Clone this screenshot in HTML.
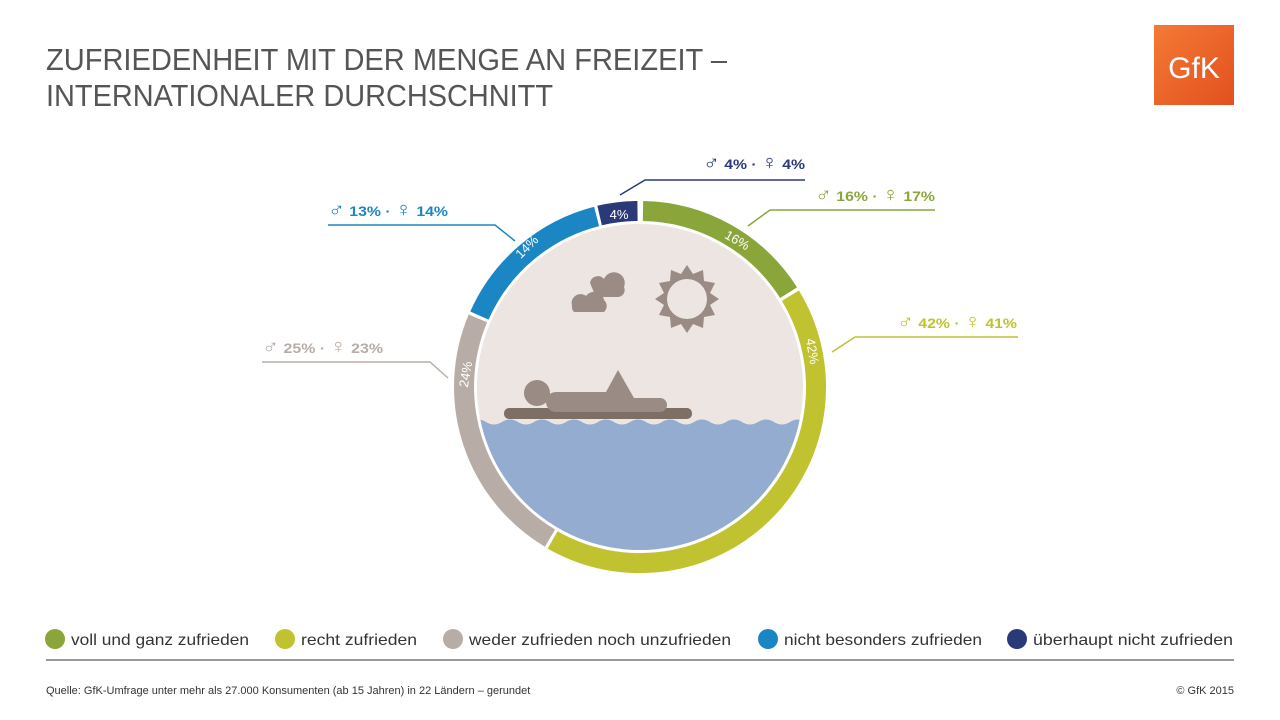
<!DOCTYPE html>
<html><head><meta charset="utf-8"><style>
body{margin:0;background:#fff;}
svg{display:block;font-family:"Liberation Sans","DejaVu Sans",sans-serif;}
</style></head><body>
<svg width="1280" height="720" viewBox="0 0 1280 720">
<defs><linearGradient id="lg" x1="0" y1="0" x2="1" y2="1"><stop offset="0" stop-color="#f47a35"/><stop offset="1" stop-color="#e2501f"/></linearGradient></defs>
<text x="46" y="70" font-size="31" fill="#555" textLength="681" lengthAdjust="spacingAndGlyphs">ZUFRIEDENHEIT MIT DER MENGE AN FREIZEIT –</text>
<text x="46" y="106" font-size="31" fill="#555" textLength="507" lengthAdjust="spacingAndGlyphs">INTERNATIONALER DURCHSCHNITT</text>
<rect x="1154" y="25" width="80" height="80" fill="url(#lg)"/>
<text x="1194" y="78" font-size="30" fill="#fff" text-anchor="middle">GfK</text>
<clipPath id="c"><circle cx="640" cy="387" r="163"/></clipPath>
<circle cx="640" cy="387" r="163" fill="#ece5e1"/>
<g clip-path="url(#c)">
<path d="M470 422 q8 -5 16 0 t16 0 t16 0 t16 0 t16 0 t16 0 t16 0 t16 0 t16 0 t16 0 t16 0 t16 0 t16 0 t16 0 t16 0 t16 0 t16 0 t16 0 t16 0 t16 0 t16 0 t16 0 V560 H470Z" fill="#93acd0"/>
</g>
<rect x="504" y="408" width="188" height="11" rx="5" fill="#7d6e66"/>
<circle cx="537" cy="393" r="13" fill="#9a8b84"/>
<path d="M556 392 h50 l12 -22 l16 28 h26 a7 7 0 0 1 0 14 h-104 a10 10 0 0 1 0 -20z" fill="#9a8b84"/>
<path d="M566 389 h20 l10 -8" stroke="#ece5e1" stroke-width="3" fill="none"/>
<path d="M572 306 a9 9 0 0 1 14 -10 a10 10 0 0 1 18 4 a8 8 0 0 1 0 12 h-30 a7 7 0 0 1 -2 -6z" fill="#9a8b84"/>
<path d="M590 283 a8 8 0 0 1 14 -4 a8 8 0 0 1 20 8 a7 7 0 0 1 -6 10 h-22z" fill="#9a8b84"/>
<polygon points="687,265 693,274 703,270 704,281 715,283 710,293 719,299 710,305 715,315 704,317 703,328 693,324 687,333 681,324 671,328 670,317 659,315 664,305 655,299 664,293 659,283 670,281 671,270 681,274" fill="#9a8b84"/>
<circle cx="687" cy="299" r="20" fill="#ece5e1"/>
<g fill="none" stroke-width="20">
<path d="M643 211 A176 176 0 0 1 788.6 292.7" stroke="#8aa63a"/>
<path d="M790.4 295.7 A176 176 0 0 1 552.6 539.9" stroke="#c0c230"/>
<path d="M550 538.1 A176 176 0 0 1 477.9 318.4" stroke="#b8ada6"/>
<path d="M479.4 315.6 A176 176 0 0 1 596.6 216.4" stroke="#1a87c4"/>
<path d="M599.6 215.5 A176 176 0 0 1 637.5 211" stroke="#2a3a78"/>
</g>
<g fill="#fff" font-size="13">
<text x="735" y="244" transform="rotate(30 735 244)" text-anchor="middle">16%</text>
<text x="808" y="352" transform="rotate(80 808 352)" text-anchor="middle">42%</text>
<text x="470" y="375" transform="rotate(-80 470 375)" text-anchor="middle">24%</text>
<text x="530" y="250" transform="rotate(-45 530 250)" text-anchor="middle">14%</text>
<text x="619" y="219" text-anchor="middle">4%</text>
</g>
<g fill="none" stroke-width="1.5">
<path d="M620 195 L645 180 H805" stroke="#2a3a78"/>
<path d="M748 226 L770 210 H935" stroke="#8aa63a"/>
<path d="M832 352 L855 337 H1018" stroke="#c0c230"/>
<path d="M448 378 L430 362 H262" stroke="#b8ada6"/>
<path d="M515 241 L495 225 H328" stroke="#1a87c4"/>
</g>
<g font-size="14" font-weight="bold">
<text x="703" y="169" fill="#2a3a78" textLength="102" lengthAdjust="spacingAndGlyphs"><tspan font-size="20">♂</tspan> 4% · <tspan font-size="20">♀</tspan> 4%</text>
<text x="815" y="201" fill="#8aa63a" textLength="120" lengthAdjust="spacingAndGlyphs"><tspan font-size="20">♂</tspan> 16% · <tspan font-size="20">♀</tspan> 17%</text>
<text x="897" y="328" fill="#c0c230" textLength="120" lengthAdjust="spacingAndGlyphs"><tspan font-size="20">♂</tspan> 42% · <tspan font-size="20">♀</tspan> 41%</text>
<text x="262" y="353" fill="#b8ada6" textLength="121" lengthAdjust="spacingAndGlyphs"><tspan font-size="20">♂</tspan> 25% · <tspan font-size="20">♀</tspan> 23%</text>
<text x="328" y="216" fill="#1a87c4" textLength="120" lengthAdjust="spacingAndGlyphs"><tspan font-size="20">♂</tspan> 13% · <tspan font-size="20">♀</tspan> 14%</text>
</g>
<g font-size="16" fill="#333">
<circle cx="55" cy="639" r="10" fill="#8aa63a"/><text x="71" y="645" textLength="178" lengthAdjust="spacingAndGlyphs">voll und ganz zufrieden</text>
<circle cx="285" cy="639" r="10" fill="#c0c230"/><text x="301" y="645" textLength="116" lengthAdjust="spacingAndGlyphs">recht zufrieden</text>
<circle cx="453" cy="639" r="10" fill="#b8ada6"/><text x="469" y="645" textLength="262" lengthAdjust="spacingAndGlyphs">weder zufrieden noch unzufrieden</text>
<circle cx="768" cy="639" r="10" fill="#1a87c4"/><text x="784" y="645" textLength="198" lengthAdjust="spacingAndGlyphs">nicht besonders zufrieden</text>
<circle cx="1017" cy="639" r="10" fill="#2a3a78"/><text x="1033" y="645" textLength="200" lengthAdjust="spacingAndGlyphs">überhaupt nicht zufrieden</text>
</g>
<line x1="46" y1="660" x2="1234" y2="660" stroke="#333" stroke-width="1"/>
<text x="46" y="694" font-size="11" fill="#333">Quelle: GfK-Umfrage unter mehr als 27.000 Konsumenten (ab 15 Jahren) in 22 Ländern – gerundet</text>
<text x="1234" y="694" font-size="11" fill="#333" text-anchor="end">© GfK 2015</text>
</svg>
</body></html>
